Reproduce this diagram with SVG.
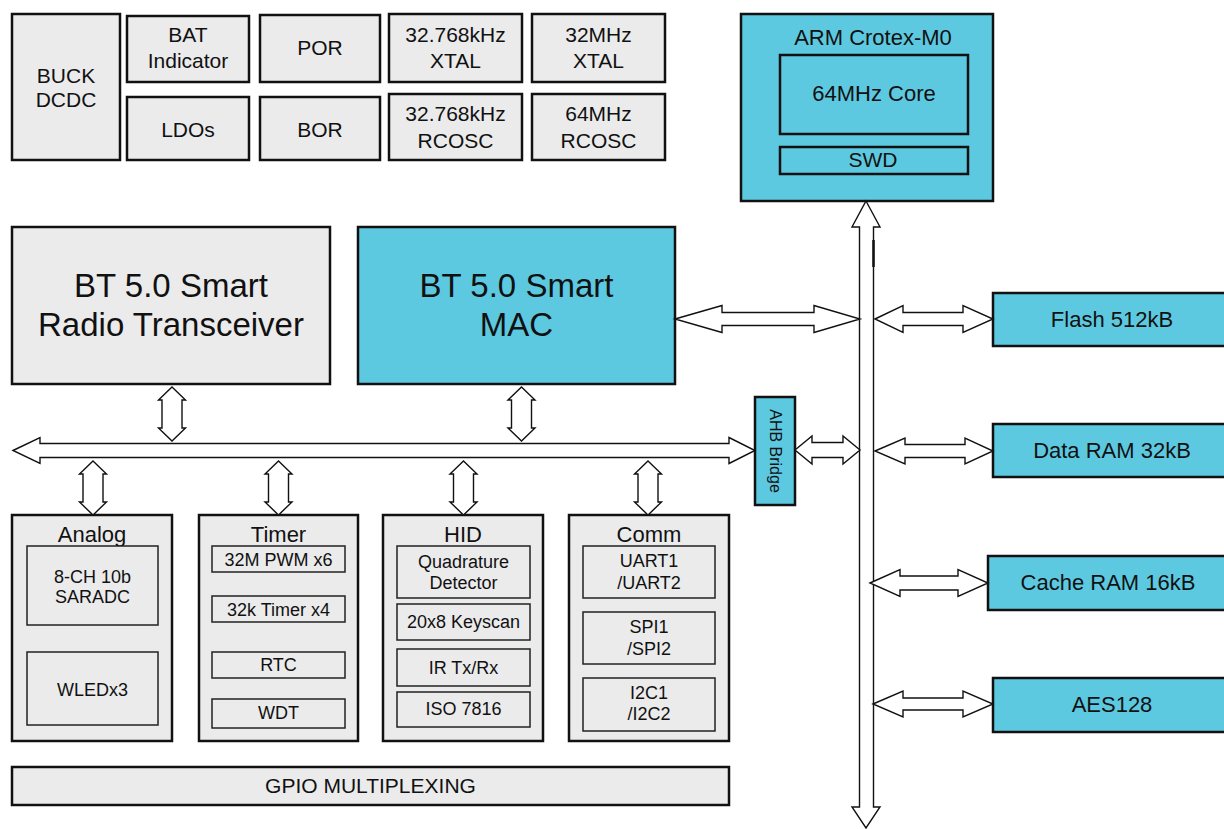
<svg xmlns="http://www.w3.org/2000/svg" width="1224" height="829" viewBox="0 0 1224 829">
<style>
text{font-family:"Liberation Sans",Arial,sans-serif;fill:#111;text-anchor:middle}
.g{fill:#ebebec;stroke:#111;stroke-width:2.5}
.c{fill:#5dc9e1;stroke:#111;stroke-width:2.5}
.gi{fill:#ebebec;stroke:#222;stroke-width:1.5}
.ci{fill:#5dc9e1;stroke:#111;stroke-width:2.5}
.t21{font-size:21px}
.t22{font-size:22px}
.t18{font-size:18px}
.t33{font-size:33px}
.ar{fill:#fff;stroke:#111;stroke-width:1.4;stroke-linejoin:miter}
</style>
<rect width="1224" height="829" fill="#fff"/>

<g id="buck"><rect class="g" x="12" y="14" width="108" height="146"/><text class="t21" x="66" y="83">BUCK</text><text class="t21" x="66" y="107">DCDC</text></g>
<g id="bat"><rect class="g" x="127" y="16" width="122" height="66"/><text class="t21" x="188" y="42">BAT</text><text class="t21" x="188" y="68">Indicator</text></g>
<g id="ldos"><rect class="g" x="127" y="97" width="122" height="63"/><text class="t21" x="188" y="137">LDOs</text></g>
<g id="por"><rect class="g" x="260" y="15" width="120" height="67"/><text class="t21" x="320" y="55">POR</text></g>
<g id="bor"><rect class="g" x="260" y="97" width="120" height="63"/><text class="t21" x="320" y="137">BOR</text></g>
<g id="xtal32k"><rect class="g" x="389" y="14" width="133" height="68"/><text class="t21" x="455.5" y="42">32.768kHz</text><text class="t21" x="455.5" y="68">XTAL</text></g>
<g id="rcosc32k"><rect class="g" x="389" y="94" width="133" height="66"/><text class="t21" x="455.5" y="121">32.768kHz</text><text class="t21" x="455.5" y="148">RCOSC</text></g>
<g id="xtal32m"><rect class="g" x="532" y="14" width="133" height="68"/><text class="t21" x="598.5" y="42">32MHz</text><text class="t21" x="598.5" y="68">XTAL</text></g>
<g id="rcosc64m"><rect class="g" x="532" y="94" width="133" height="66"/><text class="t21" x="598.5" y="121">64MHz</text><text class="t21" x="598.5" y="148">RCOSC</text></g>

<g id="arm"><rect class="c" x="741" y="14" width="252" height="187"/><text class="t22" x="873" y="45">ARM Crotex-M0</text>
<rect class="ci" x="780" y="55" width="188" height="79"/><text class="t22" x="874" y="101">64MHz Core</text>
<rect class="ci" x="780" y="147" width="188" height="27"/><text class="t21" x="873" y="167">SWD</text></g>

<g id="radio"><rect class="g" x="12" y="227" width="318" height="157"/><text class="t33" x="171" y="297">BT 5.0 Smart</text><text class="t33" x="171" y="336">Radio Transceiver</text></g>
<g id="mac"><rect class="c" x="358" y="227" width="317" height="157"/><text class="t33" x="516.5" y="297">BT 5.0 Smart</text><text class="t33" x="516.5" y="336">MAC</text></g>

<g id="ahb"><rect class="c" x="755" y="397" width="40" height="108"/><text font-size="16" transform="translate(775,451) rotate(90)" dominant-baseline="central">AHB Bridge</text></g>

<g id="flash"><rect class="c" x="993" y="293" width="240" height="53"/><text class="t22" x="1112" y="327">Flash 512kB</text></g>
<g id="dataram"><rect class="c" x="993" y="424" width="240" height="53"/><text class="t22" x="1112" y="458">Data RAM 32kB</text></g>
<g id="cacheram"><rect class="c" x="988" y="556" width="245" height="54"/><text class="t22" x="1108" y="590">Cache RAM 16kB</text></g>
<g id="aes"><rect class="c" x="993" y="678" width="240" height="54"/><text class="t22" x="1112" y="712">AES128</text></g>

<g id="analog"><rect class="g" x="12" y="515" width="160" height="226"/><text class="t22" x="92" y="542">Analog</text>
<rect class="gi" x="27" y="546" width="131" height="79"/><text class="t18" x="92.5" y="583">8-CH 10b</text><text class="t18" x="92.5" y="603">SARADC</text>
<rect class="gi" x="27" y="652" width="131" height="73"/><text class="t18" x="92.5" y="696">WLEDx3</text></g>

<g id="timer"><rect class="g" x="199" y="515" width="159" height="226"/><text class="t22" x="278.5" y="542">Timer</text>
<rect class="gi" x="212" y="546" width="133" height="26"/><text class="t18" x="278.5" y="566">32M PWM x6</text>
<rect class="gi" x="212" y="596" width="133" height="26"/><text class="t18" x="278.5" y="616">32k Timer x4</text>
<rect class="gi" x="212" y="652" width="133" height="26"/><text class="t18" x="278.5" y="671">RTC</text>
<rect class="gi" x="212" y="699" width="133" height="29"/><text class="t18" x="278.5" y="719">WDT</text></g>

<g id="hid"><rect class="g" x="383" y="515" width="160" height="226"/><text class="t22" x="463" y="542">HID</text>
<rect class="gi" x="397" y="546" width="133" height="52"/><text class="t18" x="463.5" y="568">Quadrature</text><text class="t18" x="463.5" y="589">Detector</text>
<rect class="gi" x="397" y="604" width="133" height="36"/><text class="t18" x="463.5" y="628">20x8 Keyscan</text>
<rect class="gi" x="397" y="649" width="133" height="37"/><text class="t18" x="463.5" y="674">IR Tx/Rx</text>
<rect class="gi" x="397" y="692" width="133" height="35"/><text class="t18" x="463.5" y="715">ISO 7816</text></g>

<g id="comm"><rect class="g" x="569" y="515" width="160" height="226"/><text class="t22" x="649" y="542">Comm</text>
<rect class="gi" x="583" y="546" width="132" height="52"/><text class="t18" x="649" y="567">UART1</text><text class="t18" x="649" y="589">/UART2</text>
<rect class="gi" x="583" y="612" width="132" height="52"/><text class="t18" x="649" y="633">SPI1</text><text class="t18" x="649" y="655">/SPI2</text>
<rect class="gi" x="583" y="678" width="132" height="53"/><text class="t18" x="649" y="699">I2C1</text><text class="t18" x="649" y="720">/I2C2</text></g>

<g id="gpio"><rect class="g" x="12" y="767" width="717" height="38"/><text class="t21" x="370.5" y="793">GPIO MULTIPLEXING</text></g>

<g id="connectors">
<path class="ar" d="M13,450.5 L40,437.5 L40,443.5 L729,443.5 L729,437.5 L755,450.5 L729,463.5 L729,457.5 L40,457.5 L40,463.5 Z"/>
<path class="ar" d="M866,201 L880,227 L873.5,227 L873.5,807 L880,807 L866,828 L852,807 L859.5,807 L859.5,227 L852,227 Z"/>
<line x1="873.5" y1="240" x2="873.5" y2="267" stroke="#111" stroke-width="2.5"/>
<path class="ar" d="M172,387 L185.5,400 L182,400 L182,428 L185.5,428 L172,441 L158.5,428 L162,428 L162,400 L158.5,400 Z"/>
<path class="ar" d="M521.5,387 L535,400 L531.5,400 L531.5,428 L535,428 L521.5,441 L508,428 L511.5,428 L511.5,400 L508,400 Z"/>
<path class="ar" d="M93,461 L106.5,474 L103,474 L103,502 L106.5,502 L93,515 L79.5,502 L83,502 L83,474 L79.5,474 Z"/>
<path class="ar" d="M278.5,461 L292,474 L288.5,474 L288.5,502 L292,502 L278.5,515 L265,502 L268.5,502 L268.5,474 L265,474 Z"/>
<path class="ar" d="M463.5,461 L477,474 L473.5,474 L473.5,502 L477,502 L463.5,515 L450,502 L453.5,502 L453.5,474 L450,474 Z"/>
<path class="ar" d="M648,461 L661.5,474 L658,474 L658,502 L661.5,502 L648,515 L634.5,502 L638,502 L638,474 L634.5,474 Z"/>
<path class="ar" d="M675,319 L722,305.5 L722,312.5 L814,312.5 L814,305.5 L860,319 L814,332.5 L814,325.5 L722,325.5 L722,332.5 Z"/>
<path class="ar" d="M795,450 L812,436 L812,442.5 L843,442.5 L843,436 L860,450 L843,464 L843,457.5 L812,457.5 L812,464 Z"/>
<path class="ar" d="M875,319 L903,305.5 L903,312.5 L963,312.5 L963,305.5 L993,319 L963,332.5 L963,325.5 L903,325.5 L903,332.5 Z"/>
<path class="ar" d="M875,451 L905,438 L905,444.5 L965,444.5 L965,438 L993,451 L965,464 L965,457.5 L905,457.5 L905,464 Z"/>
<path class="ar" d="M870,583 L900,569.5 L900,576 L958,576 L958,569.5 L988,583 L958,596.5 L958,590 L900,590 L900,596.5 Z"/>
<path class="ar" d="M873,704 L903,691 L903,698 L963,698 L963,691 L993,704 L963,717 L963,710 L903,710 L903,717 Z"/>
</g>
</svg>
